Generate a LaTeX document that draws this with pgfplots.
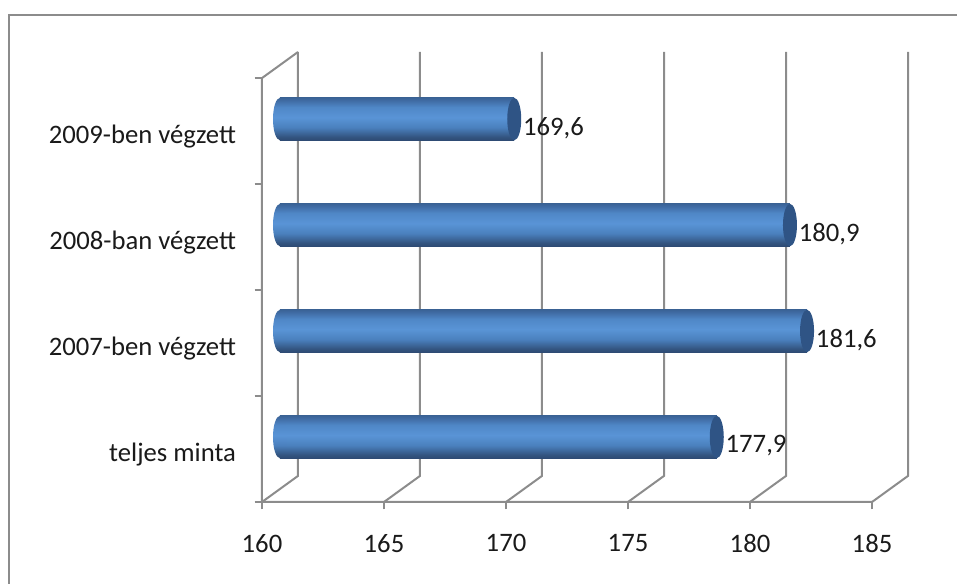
\documentclass[border=0pt]{standalone}
\usepackage{pgfplots}
\pgfplotsset{compat=1.18}
\usepackage{fontspec}
\setmainfont{Carlito}
\definecolor{grd}{HTML}{8C8C8C}
\definecolor{capc}{HTML}{2F5485}
\definecolor{txt}{HTML}{1A1A1A}
\pgfdeclareverticalshading{cylinder}{100bp}{
 rgb(0bp)=(0.18,0.29,0.45);
 rgb(25bp)=(0.18,0.29,0.45);
 rgb(29bp)=(0.20,0.33,0.50);
 rgb(40bp)=(0.29,0.50,0.74);
 rgb(52bp)=(0.35,0.58,0.84);
 rgb(64bp)=(0.31,0.53,0.78);
 rgb(72bp)=(0.25,0.42,0.64);
 rgb(75bp)=(0.23,0.39,0.59);
 rgb(100bp)=(0.23,0.39,0.59)}
\pgfdeclareplotmark{cylend}{%
 \pgfpathellipse{\pgfpointorigin}{\pgfqpoint{5.25pt}{0pt}}{\pgfqpoint{0pt}{15.9pt}}%
 \pgfsetfillcolor{capc}\pgfusepathqfill}
\pgfdeclareplotmark{cylstart}{%
 \pgfpathellipse{\pgfpointorigin}{\pgfqpoint{5.25pt}{0pt}}{\pgfqpoint{0pt}{15.9pt}}%
 \pgfshadepath{cylinder}{0}\pgfusepath{discard}}
\pgfplotsset{cyl/.style={xbar,bar width=31.9pt,bar shift=0pt,draw=none,shade,shading=cylinder,xshift=13.5pt,yshift=9pt}}
\begin{document}
\begin{tikzpicture}
\useasboundingbox (0pt,0pt) rectangle (717.75pt,438pt);
\draw[grd,line width=1.6pt] (6.75pt,0pt) -- (6.75pt,426.75pt) -- (717.75pt,426.75pt);
\begin{axis}[
 at={(196.5pt,61.5pt)},anchor=south west,
 scale only axis,width=484.5pt,height=337.5pt,
 xmin=160,xmax=186.475,ymin=0,ymax=4.246,
 clip=false,
 axis line style={draw=none},
 xtick={160,165,170,175,180,185},
 ytick={0,1,2,3,4},yticklabels={},
 extra y ticks={0.5,1.5,2.5,3.5},
 extra y tick labels={teljes minta,2007-ben végzett,2008-ban végzett,2009-ben végzett},
 extra y tick style={major tick length=0pt,ytick pos=left,
   yticklabel style={xshift=-16pt,yshift=-4pt}},
 xtick pos=bottom,ytick pos=left,
 tick align=outside,
 major tick length=5.5pt,
 tick style={grd,line width=1.5pt},
 xticklabel style={yshift=-15pt},
 tick label style={font=\fontsize{20}{22}\selectfont,text=txt},
 /pgf/number format/assume math mode=true,
]
% walls and floor
\pgfplotsinvokeforeach{160,165,170,175,180,185}{
 \addplot[grd,line width=1.5pt,forget plot] coordinates {(#1,0) (#1+1.475,0.246) (#1+1.475,4.246)};
}
\addplot[grd,line width=1.5pt] coordinates {(185,0) (160,0) (160,4) (161.475,4.246)};
% bars
\addplot[cyl] coordinates {(177.9,0.5)};
\addplot[cyl] coordinates {(181.6,1.5)};
\addplot[cyl] coordinates {(180.9,2.5)};
\addplot[cyl] coordinates {(169.6,3.5)};
\addplot[only marks,mark=cylstart,xshift=13.5pt,yshift=9pt]
 coordinates {(160,0.5) (160,1.5) (160,2.5) (160,3.5)};
\addplot[only marks,mark=cylend,xshift=13.5pt,yshift=9pt,
 point meta=x,nodes near coords,
 every node near coord/.style={anchor=west,font=\fontsize{20}{22}\selectfont,text=txt,inner sep=0pt,xshift=6.5pt,yshift=-6.75pt,
   /pgf/number format/.cd,assume math mode=true,use comma,fixed,fixed zerofill,precision=1}]
 coordinates {(177.9,0.5) (181.6,1.5) (180.9,2.5) (169.6,3.5)};
\end{axis}
\end{tikzpicture}
\end{document}
